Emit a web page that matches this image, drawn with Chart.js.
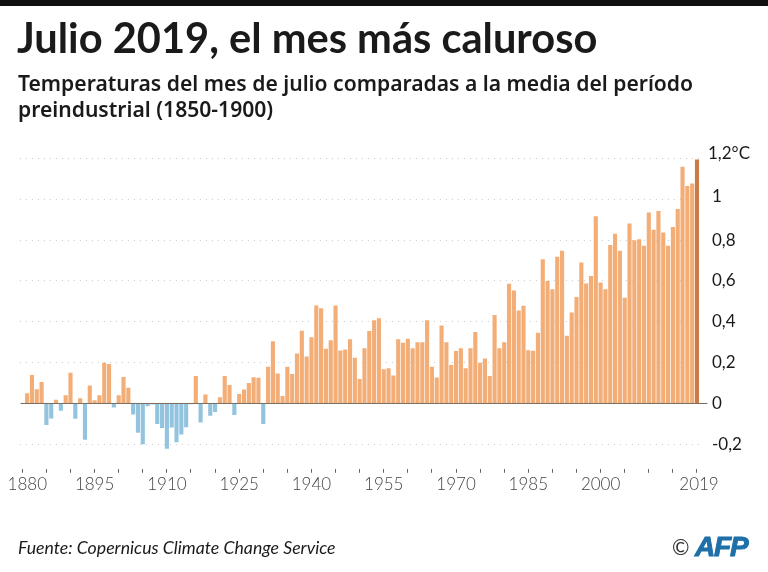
<!DOCTYPE html>
<html lang="es">
<head>
<meta charset="utf-8">
<title>Julio 2019, el mes más caluroso</title>
<script src="https://cdn.jsdelivr.net/npm/chart.js@4"></script>
<style>
    html, body { margin: 0; padding: 0; background: #fff; }
    #page { position: relative; width: 768px; height: 572px; overflow: hidden; font-family: Lato, sans-serif; color: #1a1a1a; }
    #topbar { position: absolute; left: 0; top: 0; width: 768px; height: 6px; background: #111; }
    #chart { position: absolute; left: 0; top: 0; }
    h1 { position: absolute; left: 17px; top: 13px; margin: 0; font-size: 41.6px; line-height: 48px; font-weight: 700; white-space: nowrap; }
    h2 { position: absolute; left: 18px; top: 70px; margin: 0; font-family: "Noto Sans", sans-serif; font-size: 21.1px; line-height: 25.5px; font-weight: 600; white-space: nowrap; }
    #source { position: absolute; left: 18px; top: 538px; font-size: 17.7px; line-height: 20px; font-style: italic; }
    #copy { position: absolute; left: 672px; top: 534px; font-size: 21px; line-height: 26px; color: #333; }
    #afp { position: absolute; left: 695px; top: 531px; font-family: "Liberation Sans", sans-serif; font-size: 28px; line-height: 32px; font-weight: 700; font-style: italic; letter-spacing: -1.2px; color: #1f6fa8; -webkit-text-stroke: 1px #1f6fa8; }
</style>
</head>
<body>
<div id="page">
    <div id="topbar"></div>
    <canvas id="chart" width="768" height="572"></canvas>
    <h1>Julio 2019, el mes más caluroso</h1>
    <h2>Temperaturas del mes de julio comparadas a la media del período<br>preindustrial (1850-1900)</h2>
    <div id="source">Fuente: Copernicus Climate Change Service</div>
    <div id="copy">©</div>
    <div id="afp">AFP</div>
</div>
<script>
// first slot is empty: in the original the axis ticks sit one bar left of the years
const firstYear = 1879;

const anomalies = [
    null,
    0.05, 0.14, 0.07, 0.105, -0.105, -0.074, 0.018, -0.036, 0.04, 0.15,
    -0.075, 0.026, -0.178, 0.088, 0.016, 0.04, 0.2, 0.193, -0.02, 0.04,
    0.13, 0.077, -0.054, -0.144, -0.2, -0.013, -0.005, -0.1, -0.12, -0.222,
    -0.118, -0.19, -0.152, -0.116, -0.004, 0.134, -0.093, 0.044, -0.06, -0.042,
    0.03, 0.134, 0.09, -0.057, 0.046, 0.069, 0.1, 0.129, 0.126, -0.1,
    0.18, 0.305, 0.147, 0.036, 0.18, 0.144, 0.245, 0.356, 0.23, 0.325,
    0.48, 0.466, 0.268, 0.31, 0.48, 0.26, 0.265, 0.314, 0.224, 0.12,
    0.27, 0.355, 0.408, 0.417, 0.168, 0.173, 0.137, 0.314, 0.297, 0.317,
    0.27, 0.3, 0.3, 0.408, 0.18, 0.127, 0.382, 0.3, 0.188, 0.257,
    0.27, 0.173, 0.27, 0.35, 0.2, 0.22, 0.134, 0.433, 0.27, 0.3,
    0.587, 0.554, 0.456, 0.479, 0.261, 0.258, 0.346, 0.706, 0.6, 0.56,
    0.719, 0.748, 0.332, 0.446, 0.521, 0.691, 0.588, 0.624, 0.917, 0.593,
    0.559, 0.776, 0.832, 0.748, 0.518, 0.882, 0.8, 0.804, 0.773, 0.935,
    0.851, 0.943, 0.838, 0.773, 0.864, 0.953, 1.16, 1.065, 1.078, 1.195
];

const years = anomalies.map((v, i) => firstYear + i);

// x axis: a tick every 5 slots, text only on some of them
const xTickStep = 5;
const xTickLabels = { 0: '1880', 15: '1895', 30: '1910', 45: '1925', 60: '1940', 75: '1955',
    90: '1970', 105: '1985', 120: '2000', 140: '2019' };

const yTickValues = [-0.2, 0, 0.2, 0.4, 0.6, 0.8, 1, 1.2];
const yTickLabels = ['-0,2', '0', '0,2', '0,4', '0,6', '0,8', '1', '1,2°C'];

const ORANGE = '#f3ae78';
const DARK_ORANGE = '#cc7a45';
const BLUE = '#93c4df';

function barColor(ctx) {
    if (ctx.dataIndex === anomalies.length - 1) return DARK_ORANGE;
    return ctx.raw < 0 ? BLUE : ORANGE;
}

// solid zero line, runs a little past the bars up to the y labels
const baseline = {
    id: 'baseline',
    afterDatasetsDraw(chart) {
        const y = chart.scales.y.getPixelForValue(0);
        const c = chart.ctx;
        c.save();
        c.strokeStyle = '#7a6a5e';
        c.lineWidth = 1;
        c.beginPath();
        c.moveTo(chart.chartArea.left + 1, y);
        c.lineTo(chart.chartArea.right + 8, y);
        c.stroke();
        c.restore();
    }
};

// a few labels are not centred on their tick in the original
const nudgeLabels = {
    id: 'nudgeLabels',
    beforeDraw(chart) {
        chart.scales.x.getLabelItems().forEach(item => {
            if (item.label === '1880') item.options.translation[0] += 5;
            if (item.label === '2019') item.options.translation[0] += 2;
        });
        chart.scales.y.getLabelItems().forEach(item => {
            if (item.label === '1,2°C') {
                item.options.translation[0] -= 4;
                item.options.translation[1] -= 5;
            }
            if (item.label === '1') item.options.translation[1] -= 3;
        });
    }
};

new Chart(document.getElementById('chart'), {
    type: 'bar',
    plugins: [baseline, nudgeLabels],
    data: {
        labels: years,
        datasets: [{
            data: anomalies,
            backgroundColor: barColor,
            barPercentage: 0.86,
            categoryPercentage: 1
        }]
    },
    options: {
        responsive: false,
        animation: false,
        layout: { padding: { left: 19.9, top: 158.5, right: 0, bottom: 0 } },
        plugins: { legend: { display: false }, tooltip: { enabled: false } },
        scales: {
            x: {
                offset: true,
                border: { display: false },
                grid: { offset: false, drawOnChartArea: false, drawTicks: true, tickLength: 4, tickColor: '#666', tickWidth: 1 },
                afterBuildTicks(scale) {
                    scale.ticks = scale.ticks.filter(t => t.value % xTickStep === 0);
                },
                afterFit(scale) { scale.height = 103.2; },
                ticks: {
                    autoSkip: false,
                    maxRotation: 0,
                    padding: 2,
                    color: '#444',
                    font: { family: 'Lato', size: 17, weight: '300' },
                    callback(value) { return xTickLabels[value] || ''; }
                }
            },
            y: {
                position: 'right',
                min: -0.32,
                max: 1.2,
                // dotted rules
                border: { display: false, dash: [1, 5] },
                grid: { color: '#c8c8c8', lineWidth: 1, drawTicks: false },
                afterBuildTicks(scale) {
                    scale.ticks = yTickValues.map(v => ({ value: v }));
                },
                afterFit(scale) { scale.width = 68.6; },
                ticks: {
                    padding: 12.6,
                    color: '#1a1a1a',
                    font: { family: 'Lato', size: 17 },
                    callback(value) { return yTickLabels[yTickValues.indexOf(value)]; }
                }
            }
        }
    }
});
</script>
</body>
</html>
